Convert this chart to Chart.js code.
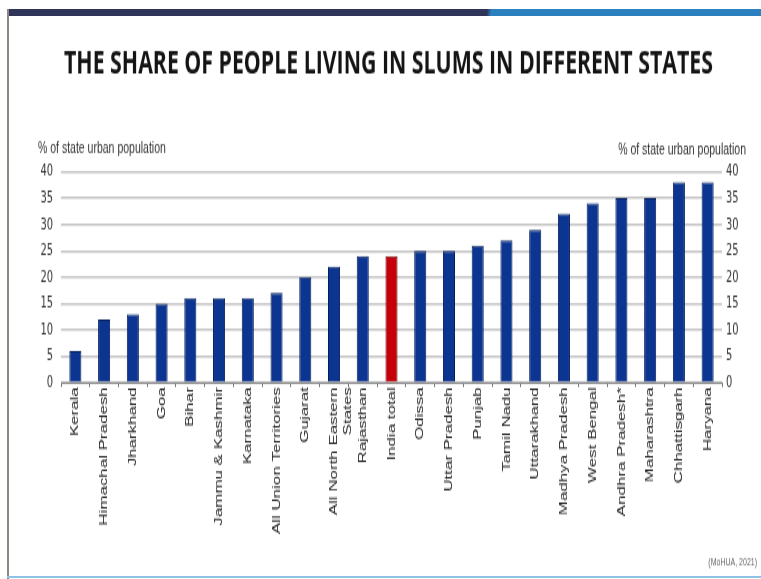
<!DOCTYPE html>
<html>
<head>
<meta charset="utf-8">
<script src="https://cdn.jsdelivr.net/npm/chart.js@4.4.1/dist/chart.umd.min.js"></script>
<style>
    html, body { margin: 0; padding: 0; background: #fff; overflow: hidden; }
    #wrap { position: relative; width: 761px; height: 579px; }
    /* the slide picture is stretched vertically, so the chart is too */
    #stretch { position: absolute; left: 0; top: 0; width: 761px; height: 386px;
        transform: scale(1, 1.5); transform-origin: 0 0; }
    .topbar { position: absolute; left: 7px; top: 9px; width: 754px; height: 7px;
        background: linear-gradient(96deg, #2f3459 0, #2f3459 63.6%, #2b80c0 64.2%, #2b80c0 100%); }
    .leftline { position: absolute; left: 7px; top: 9px; width: 2px; height: 570px; background: #8d8882; }
    .bottomline { position: absolute; left: 7px; top: 576px; width: 754px; height: 2px; background: #8fc3e6; }
</style>
</head>
<body>
<div id="wrap">
    <div id="stretch">
        <canvas id="slumChart" width="761" height="386" style="width:761px;height:386px"></canvas>
    </div>
    <div class="topbar"></div>
    <div class="leftline"></div>
    <div class="bottomline"></div>
</div>
<script>
const chartTitle = 'THE SHARE OF PEOPLE LIVING IN SLUMS IN DIFFERENT STATES';
const axisCaption = '% of state urban population';
const sourceNote = '(MoHUA, 2021)';

const states = ['Kerala', 'Himachal Pradesh', 'Jharkhand', 'Goa', 'Bihar', 'Jammu & Kashmir',
    'Karnataka', 'All Union Territories', 'Gujarat', ['All North Eastern', 'States'], 'Rajasthan',
    'India total', 'Odissa', 'Uttar Pradesh', 'Punjab', 'Tamil Nadu', 'Uttarakhand',
    'Madhya Pradesh', 'West Bengal', 'Andhra Pradesh*', 'Maharashtra', 'Chhattisgarh', 'Haryana'];
const slumShare = [6, 12, 13, 15, 16, 16, 16, 17, 20, 22, 24, 24, 25, 25, 26, 27, 29, 32, 34, 35, 35, 38, 38];
const yTicks = [0, 5, 10, 15, 20, 25, 30, 35, 40];

const highlight = 'India total';
const barColors = states.map(s => s === highlight ? '#c4000b' : '#0c3592');
const barBorders = states.map(s => s === highlight ? '#6e0000' : '#06205e');

const narrow = "'Liberation Sans Narrow', 'DejaVu Sans Condensed', sans-serif";

// title, axis captions and source are slide text, drawn after the chart
const slideText = {
    id: 'slideText',
    afterDraw(chart) {
        const ctx = chart.ctx;
        ctx.save();
        ctx.font = 'bold 21px "Open Sans"';
        ctx.fillStyle = '#141414';
        ctx.textBaseline = 'middle';
        ctx.textAlign = 'left';
        const w = ctx.measureText(chartTitle).width;
        ctx.translate(64, 43.5);
        ctx.scale(649 / w, 1);
        ctx.fillText(chartTitle, 0, 0);
        ctx.restore();

        ctx.save();
        ctx.font = '10.5px "Liberation Sans", Arial, sans-serif';
        ctx.fillStyle = '#333';
        ctx.textBaseline = 'middle';
        ctx.textAlign = 'left';
        ctx.fillText(axisCaption, 38, 98.7);
        ctx.textAlign = 'right';
        ctx.fillText(axisCaption, 746, 100);

        ctx.font = '7px "Liberation Sans", Arial, sans-serif';
        ctx.fillStyle = '#666';
        ctx.fillText(sourceNote, 757, 375);
        ctx.restore();
    }
};

const yScale = (position, pad, width) => ({
    type: 'linear',
    position: position,
    min: 0,
    max: 40,
    afterBuildTicks: s => { s.ticks = yTicks.map(v => ({ value: v })); },
    afterFit: s => { s.width = width; },
    border: { display: false },
    grid: {
        drawOnChartArea: position === 'left',
        drawTicks: false,
        color: '#c6c6c6',
        lineWidth: 1.4
    },
    ticks: {
        padding: pad,
        color: '#333',
        font: { family: narrow, size: 11 }
    }
});

new Chart(document.getElementById('slumChart'), {
    type: 'bar',
    data: {
        labels: states,
        datasets: [{
            data: slumShare,
            backgroundColor: barColors,
            borderColor: barBorders,
            borderWidth: 1,
            barPercentage: 0.42,
            categoryPercentage: 1,
            yAxisID: 'y'
        }]
    },
    options: {
        responsive: false,
        devicePixelRatio: 1,
        animation: false,
        layout: { padding: { top: 114.5, left: 0, right: 0, bottom: 0 } },
        plugins: {
            legend: { display: false },
            tooltip: { enabled: false }
        },
        scales: {
            x: {
                afterFit: s => { s.height = 386 - 255.1; },
                border: { display: true, color: '#8c8c8c', width: 1 },
                grid: {
                    offset: true,
                    drawOnChartArea: false,
                    drawTicks: true,
                    tickLength: 3,
                    color: '#777'
                },
                ticks: {
                    autoSkip: false,
                    minRotation: 90,
                    maxRotation: 90,
                    padding: 0,
                    color: '#222',
                    font: { family: '"Liberation Sans", Arial, sans-serif', size: 11.3 }
                }
            },
            y: yScale('left', 8, 61),
            y2: yScale('right', 4, 39)
        }
    },
    plugins: [slideText]
});
</script>
</body>
</html>
